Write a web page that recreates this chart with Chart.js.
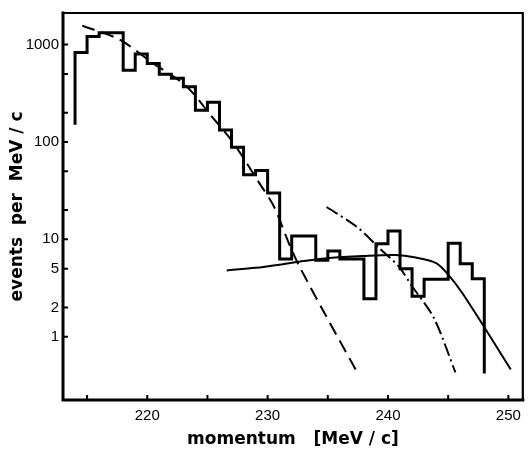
<!DOCTYPE html>
<html><head><meta charset="utf-8">
<script src="https://cdn.jsdelivr.net/npm/chart.js@4/dist/chart.umd.min.js"></script>
<style>html,body{margin:0;padding:0;background:#fff}#wrap{width:528px;height:454px}</style>
</head><body><div id="wrap"><canvas id="c" width="528" height="454"></canvas></div>
<script>
// histogram: bin left edges (MeV/c, 1 MeV/c bins) and events per MeV/c
const binEdges = [214,215,216,217,218,219,220,221,222,223,224,225,226,227,228,229,230,231,232,233,234,235,236,237,238,239,240,241,242,243,244,245,246,247,248];
const binCounts = [830,1210,1320,1320,545,800,640,495,450,370,212,255,133,88,46,51,30,6.3,10.8,10.8,6.1,7.6,6.3,6.3,2.45,9.0,12.2,5.0,2.6,3.9,3.9,9.1,5.6,3.95];
const histStartLow = 150;
const histEndLow = 0.42;

// dashed curve
const dashedX = [214.6,217.7,220.4,223.2,225.4,227.1,229.3,230.5,231.8,232.6,234.8,237.4];
const dashedY = [1560,1125,652,378,180,100,38,22,8.9,5.4,1.68,0.44];

// dash-dot curve
const dashDotX = [234.9,237.5,239.2,240.9,242.0,243.8,245.6];
const dashDotY = [21.5,13.2,8.3,5.25,3.3,1.57,0.43];

// solid curve
const solidX = [226.6,229.0,231.0,233.0,235.1,237.9,240.6,242.3,244.0,245.0,246.1,247.6,250.2];
const solidY = [4.8,5.1,5.5,6.0,6.45,6.75,6.9,6.5,5.7,4.35,2.9,1.5,0.46];

// axis ticks
const xTickValues = [215,220,225,230,235,240,245,250];
const xTickLabels = [220,230,240,250];
const yTickValues = [1,2,5,10,20,50,100,200,500,1000];
const yTickLabels = [1,2,5,10,100,1000];

const histPts = [{x: binEdges[0], y: histStartLow}];
for (let i = 0; i < binCounts.length; i++) {
  histPts.push({x: binEdges[i], y: binCounts[i]});
  histPts.push({x: binEdges[i+1], y: binCounts[i]});
}
histPts.push({x: binEdges[binEdges.length-1], y: histEndLow});

const zip = (xs, ys) => xs.map((x,i) => ({x, y: ys[i]}));

const framePlugin = {
  id: 'frame',
  afterDraw(chart) {
    const ctx = chart.ctx, a = chart.chartArea;
    const xs = chart.scales.x, ys = chart.scales.y;
    ctx.save();
    ctx.strokeStyle = '#000';
    ctx.lineCap = 'square';
    ctx.lineWidth = 3;
    ctx.beginPath();
    ctx.moveTo(a.left, a.top); ctx.lineTo(a.left, a.bottom); ctx.lineTo(a.right, a.bottom);
    ctx.stroke();
    ctx.lineWidth = 2.2;
    ctx.beginPath();
    ctx.moveTo(a.left, a.top); ctx.lineTo(a.right, a.top); ctx.lineTo(a.right, a.bottom);
    ctx.stroke();
    ctx.lineWidth = 2;
    ctx.lineCap = 'butt';
    ctx.beginPath();
    xTickValues.forEach(v => { const p = xs.getPixelForValue(v); ctx.moveTo(p, a.bottom); ctx.lineTo(p, a.bottom - 5); });
    yTickValues.forEach(v => { const p = ys.getPixelForValue(v); ctx.moveTo(a.left, p); ctx.lineTo(a.left + 5, p); });
    ctx.stroke();
    ctx.restore();
  }
};

new Chart(document.getElementById('c'), {
  type: 'line',
  data: {
    datasets: [
      {data: histPts, borderColor: '#000', borderWidth: 3, pointRadius: 0, tension: 0, borderJoinStyle: 'miter', borderCapStyle: 'butt'},
      {data: zip(dashedX, dashedY), borderColor: '#000', borderWidth: 2, borderDash: [13, 7], pointRadius: 0, tension: 0.3},
      {data: zip(dashDotX, dashDotY), borderColor: '#000', borderWidth: 2, borderDash: [13, 4, 2, 4], pointRadius: 0, tension: 0.3},
      {data: zip(solidX, solidY), borderColor: '#000', borderWidth: 2, pointRadius: 0, tension: 0.3}
    ]
  },
  options: {
    responsive: false,
    devicePixelRatio: 1,
    animation: false,
    layout: {padding: {top: 10, right: 4, left: 0, bottom: 0}},
    plugins: {legend: {display: false}, tooltip: {enabled: false}},
    scales: {
      x: {
        type: 'linear', min: 213, max: 251.2,
        grid: {display: false, drawTicks: false, tickLength: 0},
        border: {display: false},
        afterFit: s => { s.height = 54; },
        afterBuildTicks: s => { s.ticks = xTickValues.map(v => ({value: v})); },
        ticks: {
          autoSkip: false, maxRotation: 0, padding: 7, color: '#000',
          font: {family: 'Liberation Sans', size: 15},
          callback: v => xTickLabels.includes(v) ? String(v) : ''
        },
        title: {display: true, text: 'momentum   [MeV / c]', color: '#000', padding: {top: 0, bottom: 4},
          font: {family: 'DejaVu Sans', size: 17, weight: 'bold'}}
      },
      y: {
        type: 'logarithmic', min: 0.224, max: 2110,
        grid: {display: false, drawTicks: false, tickLength: 0},
        border: {display: false},
        afterFit: s => { s.width = 63; },
        afterBuildTicks: s => { s.ticks = yTickValues.map(v => ({value: v})); },
        ticks: {
          autoSkip: false, padding: 4, color: '#000',
          font: {family: 'Liberation Sans', size: 15},
          callback: v => yTickLabels.includes(v) ? String(v) : ''
        },
        title: {display: true, text: 'events  per  MeV / c', color: '#000', padding: {top: 7, bottom: 0},
          font: {family: 'DejaVu Sans', size: 17, weight: 'bold'}}
      }
    }
  },
  plugins: [framePlugin]
});
</script>
</body></html>
